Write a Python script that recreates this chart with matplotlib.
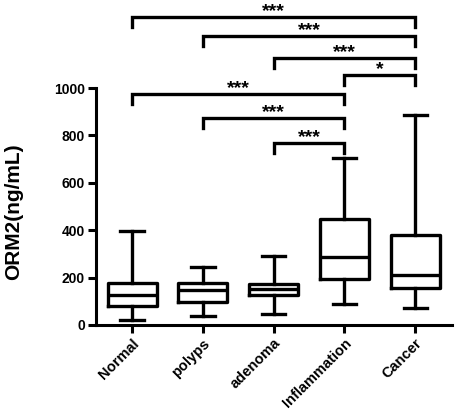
import matplotlib
matplotlib.use("Agg")
import matplotlib.pyplot as plt

plt.rcParams['font.family'] = ['Liberation Sans', 'DejaVu Sans']
plt.rcParams['font.weight'] = 'bold'

categories = ["Normal", "polyps", "adenoma", "Inflammation", "Cancer"]
whislo = [21, 38, 45, 90, 70]
q1 = [80, 98, 127, 193, 155]
med = [127, 148, 152, 288, 210]
q3 = [178, 176, 172, 447, 378]
whishi = [397, 245, 292, 705, 885]

# comparisons: (group a index, group b index, bracket height, label)
comp_a = [1, 2, 3, 4, 1, 2, 3]
comp_b = [5, 5, 5, 5, 4, 4, 4]
comp_y = [1300, 1219, 1128, 1055, 975, 875, 768]
comp_lab = ["***", "***", "***", "*", "***", "***", "***"]

fig = plt.figure(figsize=(4.57, 4.17), dpi=100)
ax = fig.add_axes([96/457, 1-325/417, (452-96)/457, (325-88)/417])

stats = []
for i, c in enumerate(categories):
    stats.append(dict(label=c, whislo=whislo[i], q1=q1[i], med=med[i],
                      q3=q3[i], whishi=whishi[i], fliers=[]))
lw = 2.4
ax.bxp(stats, positions=range(1, 6), widths=0.69, showfliers=False,
       boxprops=dict(color='black', linewidth=lw),
       medianprops=dict(color='black', linewidth=lw),
       whiskerprops=dict(color='black', linewidth=lw),
       capprops=dict(color='black', linewidth=lw),
       capwidths=0.33)

ax.set_xlim(0.49, 5.52)
ax.set_ylim(0, 1000)
ax.set_yticks([0, 200, 400, 600, 800, 1000])
ax.set_xticks(range(1, 6))
ax.set_xticklabels(categories, rotation=45, ha='right', rotation_mode='anchor',
                   fontsize=10.5, fontweight='bold')
for lab in ax.get_yticklabels():
    lab.set_fontsize(10)
    lab.set_fontweight('bold')
ax.set_ylabel("ORM2(ng/mL)", fontsize=15, fontweight='bold')
ax.yaxis.set_label_coords(-0.205, 0.477)
for s in ['top', 'right']:
    ax.spines[s].set_visible(False)
for s in ['left', 'bottom']:
    ax.spines[s].set_linewidth(2.2)
ax.tick_params(axis='both', width=2.2, length=6, direction='out', pad=2)

tick = 42
for a, b, y, lab in zip(comp_a, comp_b, comp_y, comp_lab):
    ax.plot([a, a, b, b], [y - tick, y, y, y - tick], color='black',
            linewidth=2.4, clip_on=False, solid_joinstyle='miter')
    ax.text((a + b) / 2, y + 4, lab, ha='center', va='baseline',
            fontsize=14, fontweight='bold', clip_on=False)

fig.savefig("out.png", dpi=100)
